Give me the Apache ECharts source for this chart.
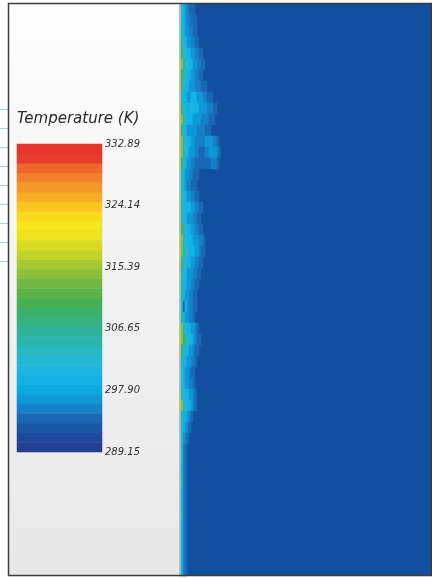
<!DOCTYPE html>
<html>
<head>
<meta charset="utf-8">
<script src="https://cdn.jsdelivr.net/npm/echarts@6/dist/echarts.min.js"></script>
<style>
html, body { margin: 0; padding: 0; background: #fff; }
#main { width: 432px; height: 578px; }
</style>
</head>
<body>
<div id="main"></div>
<script>
// legend scale, K
var tickValues = [289.15, 297.90, 306.65, 315.39, 324.14, 332.89];
var titleText = 'Temperature (K)';

// colour bands of the legend, bottom to top
var bandColors = [
    '#223f92', '#1f4a9c', '#1c57a6', '#1a68b4', '#1680c8', '#0f98d8', '#0ea8e0', '#14b2e6',
    '#1cb6e0', '#24b8d2', '#29b8c2', '#2ab6ae', '#2db39a', '#34b282', '#3cb06a', '#48b054',
    '#5ab24a', '#70b843', '#8cc03a', '#a8c832', '#c2d22a', '#d8da24', '#ece21e', '#f6e61c',
    '#f9da1c', '#f8c61e', '#f6ae24', '#f4982a', '#f2822a', '#ef662a', '#e73c2a', '#e6352a'
];

// temperature of each level digit used in wallRows (0 = ambient, not drawn)
var levelTemps = [0, 293.6, 295.0, 296.5, 299.1, 302.0, 304.9, 310.0, 314.2, 318.5];

// near-wall field, read top to bottom, one digit per 2px column next to the wall
var wallRows = [
    '5432111000000000000000',
    '5432211100000000000000',
    '6433221100000000000000',
    '6543322110000000000000',
    '7554433221100000000000',
    '8655443322110000000000',
    '7654433221100000000000',
    '7544333222111000000000',
    '6443344433322111000000',
    '7544454443333222110000',
    '8654443333222211100000',
    '7543333322221110000000',
    '8654433222223333221000',
    '8654333221112233332100',
    '7543322111111112221000',
    '6433221110000000000000',
    '6432211100000000000000',
    '6543322110000000000000',
    '6544433221100000000000',
    '6543332211000000000000',
    '7654433221100000000000',
    '8654443332210000000000',
    '8655444332110000000000',
    '7554433221100000000000',
    '6543332211000000000000',
    '6443322110000000000000',
    '6433221100000000000000',
    '5143221100000000000000',
    '6433221000000000000000',
    '8654433210000000000000',
    '8765443211000000000000',
    '7544332110000000000000',
    '6443322100000000000000',
    '5433211000000000000000',
    '5433221000000000000000',
    '6544332100000000000000',
    '8654432100000000000000',
    '6443210000000000000000',
    '5432100000000000000000',
    '5321000000000000000000',
    '5210000000000000000000',
    '5210000000000000000000',
    '4210000000000000000000',
    '5210000000000000000000',
    '4210000000000000000000',
    '4210000000000000000000',
    '5210000000000000000000',
    '4210000000000000000000',
    '4210000000000000000000',
    '4210000000000000000000',
    '4210000000000000000000',
    '4210000000000000000000'
];

var tMin = tickValues[0];
var tMax = tickValues[tickValues.length - 1];
var step = (tMax - tMin) / bandColors.length;

var pieces = bandColors.map(function (c, i) {
    return { gte: tMin + i * step, lt: tMin + (i + 1) * step, color: c };
});
pieces[pieces.length - 1].lt = tMax + 1;

var bandCats = [];
var barData = [];
bandColors.forEach(function (c, i) {
    bandCats.push(i);
    barData.push([0, i, tMin + (i + 0.5) * step]);
});

var fieldCols = [];
for (var c = 0; c < 125; c++) fieldCols.push(c);
var fieldRowCats = [];
var fieldData = [];
wallRows.forEach(function (row, r) {
    fieldRowCats.push(r);
    for (var k = 0; k < row.length; k++) {
        var lvl = +row.charAt(k);
        if (lvl > 0) fieldData.push([k, r, levelTemps[lvl]]);
    }
});

var rules = [];
[109, 128, 147, 166, 185, 204, 223, 242, 261].forEach(function (y) {
    rules.push({
        type: 'line', z: 5,
        shape: { x1: 0, y1: y + 0.5, x2: 8, y2: y + 0.5 },
        style: { stroke: '#9fd3ee', lineWidth: 1 }
    });
});

var chart = echarts.init(document.getElementById('main'));
var option = {
    animation: false,
    backgroundColor: '#ffffff',
    title: {
        text: titleText,
        left: 17,
        top: 112,
        padding: 0,
        textStyle: {
            fontFamily: 'DejaVu Sans',
            fontStyle: 'italic',
            fontWeight: 'normal',
            fontSize: 15,
            color: '#2a2a2a'
        }
    },
    graphic: [{
        type: 'rect', z: -10,
        shape: { x: 9, y: 4, width: 170, height: 572 },
        style: {
            fill: new echarts.graphic.LinearGradient(0, 0, 0, 1, [
                { offset: 0, color: '#fefefe' },
                { offset: 0.5, color: '#f2f2f2' },
                { offset: 1, color: '#e7e7e7' }
            ])
        }
    }, {
        type: 'rect', z: 100,
        shape: { x: 8.5, y: 3.5, width: 423, height: 572 },
        style: { fill: null, stroke: '#3c3c3c', lineWidth: 1.5 }
    }].concat(rules),
    visualMap: {
        type: 'piecewise',
        show: false,
        dimension: 2,
        seriesIndex: [0, 1],
        pieces: pieces
    },
    grid: [
        { left: 17, top: 144, width: 85, height: 308 },
        { left: 181, top: 4, width: 250, height: 572, show: true, backgroundColor: '#12509f', borderWidth: 0 }
    ],
    xAxis: [
        { gridIndex: 0, type: 'category', data: ['T'], show: false },
        { gridIndex: 1, type: 'category', data: fieldCols, show: false }
    ],
    yAxis: [
        { gridIndex: 0, type: 'category', data: bandCats, show: false },
        {
            gridIndex: 0, type: 'value', position: 'right',
            min: tMin, max: tMax,
            axisLine: { show: false },
            axisTick: { show: false },
            splitLine: { show: false },
            axisLabel: {
                customValues: tickValues,
                margin: 3,
                fontFamily: 'DejaVu Sans',
                fontStyle: 'italic',
                fontSize: 10,
                color: '#333333',
                formatter: function (v) { return v.toFixed(2); }
            }
        },
        {
            gridIndex: 1, type: 'category', data: fieldRowCats, inverse: true,
            offset: 1,
            axisLine: { show: true, lineStyle: { color: '#c5bea3', width: 2 } },
            axisTick: { show: false },
            axisLabel: { show: false }
        }
    ],
    series: [{
        type: 'heatmap',
        xAxisIndex: 0,
        yAxisIndex: 0,
        data: barData,
        emphasis: { disabled: true }
    }, {
        type: 'heatmap',
        xAxisIndex: 1,
        yAxisIndex: 2,
        data: fieldData,
        emphasis: { disabled: true }
    }]
};
chart.setOption(option);
</script>
</body>
</html>
